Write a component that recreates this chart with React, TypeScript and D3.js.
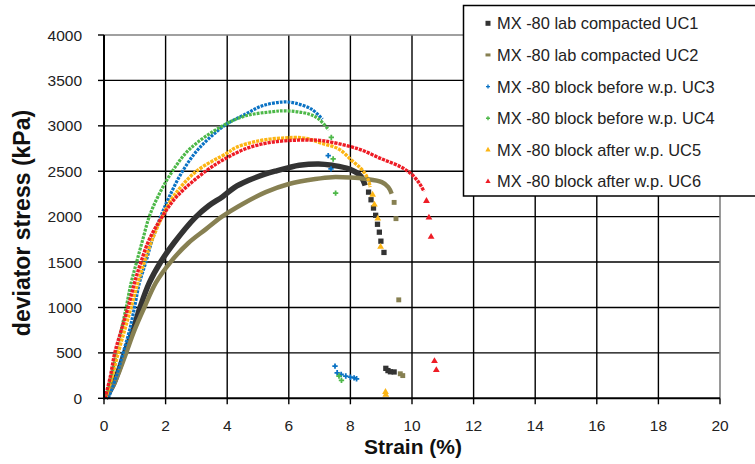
import React from 'react';
import * as d3 from 'd3';

type P = [number, number];

const xTicks = [0, 2, 4, 6, 8, 10, 12, 14, 16, 18, 20];
const yTicks = [0, 500, 1000, 1500, 2000, 2500, 3000, 3500, 4000];
const xTitle = 'Strain (%)';
const yTitle = 'deviator stress (kPa)';
const seriesNames = [
  'MX -80 lab compacted UC1',
  'MX -80 lab compacted UC2',
  'MX -80 block before w.p. UC3',
  'MX -80 block before w.p. UC4',
  'MX -80 block after w.p. UC5',
  'MX -80 block after w.p. UC6',
];

// UC1 – lab compacted
const uc1Curve: P[] = [
  [0.05, 0], [0.3, 150], [0.5, 330], [0.67, 500], [0.94, 750], [1.17, 1000], [1.47, 1270],
  [1.84, 1500], [2.27, 1710], [2.96, 1990], [3.4, 2120], [3.85, 2220], [4.23, 2320], [4.7, 2400],
  [5.2, 2465], [5.6, 2505], [6.0, 2540], [6.34, 2565], [6.97, 2580], [7.41, 2565], [7.95, 2526],
  [8.32, 2453], [8.48, 2343],
];
const uc1Scatter: P[] = [
  [8.59, 2270], [8.67, 2186], [8.75, 2095], [8.82, 2015], [8.88, 1916], [8.94, 1829], [8.99, 1730],
  [9.09, 1606], [9.15, 330], [9.22, 305], [9.3, 292], [9.42, 290],
];
// UC2 – lab compacted
const uc2Curve: P[] = [
  [0.05, 0], [0.3, 140], [0.5, 300], [0.72, 500], [0.99, 750], [1.31, 1000], [1.68, 1270],
  [2.16, 1500], [2.74, 1710], [3.3, 1860], [3.83, 2000], [4.5, 2140], [5.25, 2270], [6.0, 2360],
  [6.86, 2415], [7.41, 2435], [8.0, 2430], [8.48, 2416], [9.02, 2380], [9.23, 2325], [9.34, 2252],
];
const uc2Scatter: P[] = [[9.42, 2157], [9.48, 1978], [9.57, 1084], [9.62, 270], [9.7, 250]];
// UC3 – block before w.p.
const uc3Curve: P[] = [
  [0.14, 0], [0.4, 240], [0.62, 500], [0.83, 750], [0.99, 1000], [1.15, 1270], [1.36, 1500],
  [1.57, 1750], [1.84, 2000], [2.12, 2220], [2.55, 2500], [3.08, 2750], [3.9, 3000], [4.6, 3130],
  [5.14, 3220], [5.78, 3262], [6.2, 3250], [6.75, 3180], [7.09, 3073],
];
const uc3Scatter: P[] = [
  [7.28, 2672], [7.37, 2526], [7.5, 354], [7.57, 281], [7.7, 262], [7.85, 245], [8.0, 232],
  [8.12, 225], [8.2, 215],
];
// UC4 – block before w.p.
const uc4Curve: P[] = [
  [0.03, 0], [0.2, 180], [0.4, 500], [0.56, 750], [0.72, 1000], [0.88, 1270], [1.06, 1500],
  [1.26, 1750], [1.47, 2000], [1.75, 2220], [2.22, 2500], [2.8, 2750], [3.85, 3000], [4.6, 3110],
  [5.46, 3155], [5.9, 3165], [6.65, 3130], [6.97, 3075], [7.3, 2953],
];
const uc4Scatter: P[] = [[7.38, 2873], [7.44, 2635], [7.52, 2259], [7.63, 245], [7.71, 197]];
// UC5 – block after w.p.
const uc5Curve: P[] = [
  [0.05, 0], [0.25, 220], [0.46, 500], [0.67, 750], [0.88, 1000], [1.1, 1270], [1.31, 1500],
  [1.57, 1750], [1.89, 2000], [2.26, 2225], [3.0, 2500], [4.0, 2700], [4.28, 2760], [5.03, 2835],
  [5.78, 2865], [6.5, 2865], [7.05, 2810], [7.62, 2745], [8.05, 2617], [8.32, 2537], [8.48, 2471],
  [8.59, 2398], [8.64, 2325],
];
const uc5Scatter: P[] = [[8.72, 2241], [8.78, 2132], [8.89, 1978], [8.98, 1668], [9.14, 70], [9.15, 40]];
// UC6 – block after w.p.
const uc6Curve: P[] = [
  [0.03, 0], [0.2, 230], [0.35, 500], [0.56, 750], [0.78, 1000], [0.99, 1270], [1.2, 1500],
  [1.47, 1750], [1.89, 2000], [2.37, 2225], [3.3, 2500], [4.0, 2650], [4.7, 2760], [5.46, 2820],
  [6.32, 2843], [7.0, 2840], [7.41, 2818], [8.27, 2745], [9.02, 2635], [9.66, 2544], [10.03, 2453],
  [10.25, 2362], [10.39, 2278],
];
const uc6Scatter: P[] = [[10.47, 2172], [10.55, 1989], [10.62, 1778], [10.73, 409], [10.79, 310]];

const W = 755;
const H = 464;
const FONT = '"Liberation Sans", Arial, sans-serif';

const xS = d3.scaleLinear().domain([0, 20]).range([104, 720]);
const yS = d3.scaleLinear().domain([0, 4000]).range([398.3, 35]);

const series = [
  { name: seriesNames[0], curve: uc1Curve, scatter: uc1Scatter, color: '#333333', width: 5.5, dash: '', symbol: d3.symbolSquare, size: 28 },
  { name: seriesNames[1], curve: uc2Curve, scatter: uc2Scatter, color: '#878052', width: 4.5, dash: '', symbol: d3.symbolSquare, size: 24 },
  { name: seriesNames[2], curve: uc3Curve, scatter: uc3Scatter, color: '#0a72c4', width: 3.2, dash: '2.8 1.1', symbol: d3.symbolCross, size: 16 },
  { name: seriesNames[3], curve: uc4Curve, scatter: uc4Scatter, color: '#4db848', width: 3.2, dash: '2.8 1.1', symbol: d3.symbolCross, size: 16 },
  { name: seriesNames[4], curve: uc5Curve, scatter: uc5Scatter, color: '#fcb514', width: 3.4, dash: '3.2 1', symbol: d3.symbolTriangle, size: 20 },
  { name: seriesNames[5], curve: uc6Curve, scatter: uc6Scatter, color: '#ee1c25', width: 3.4, dash: '3.2 1', symbol: d3.symbolTriangle, size: 20 },
];

const line = d3
  .line<P>()
  .x((d) => xS(d[0]))
  .y((d) => yS(d[1]))
  .curve(d3.curveCatmullRom.alpha(0.5));

export default function App() {
  const x0 = xS(0);
  const x1 = xS(20);
  const y0 = yS(0);
  const y1 = yS(4000);
  return (
    <svg
      width={W}
      height={H}
      viewBox={`0 0 ${W} ${H}`}
      style={{ position: 'absolute', left: 0, top: 0, display: 'block', background: '#fff' }}
      fontFamily={FONT}
    >
      <rect x={0} y={0} width={W} height={H} fill="#fff" />
      {/* grid */}
      {yTicks.slice(1, -1).map((t) => (
        <line key={'gy' + t} x1={x0} x2={x1} y1={yS(t)} y2={yS(t)} stroke="#000" strokeWidth={1.4} />
      ))}
      {xTicks.slice(1, -1).map((t) => (
        <line key={'gx' + t} x1={xS(t)} x2={xS(t)} y1={y0} y2={y1} stroke="#000" strokeWidth={1.4} />
      ))}
      {/* frame top/right */}
      <line x1={x0} x2={x1} y1={y1} y2={y1} stroke="#808080" strokeWidth={1.6} />
      <line x1={x1} x2={x1} y1={y0} y2={y1} stroke="#808080" strokeWidth={1.6} />
      {/* ticks */}
      {yTicks.map((t) => (
        <line key={'ty' + t} x1={x0 - 6} x2={x0} y1={yS(t)} y2={yS(t)} stroke="#000" strokeWidth={1.4} />
      ))}
      {xTicks.map((t) => (
        <line key={'tx' + t} x1={xS(t)} x2={xS(t)} y1={y0} y2={y0 + 6} stroke="#000" strokeWidth={1.4} />
      ))}
      {/* series */}
      {series.map((s, i) => (
        <g key={'s' + i}>
          <path
            d={line(s.curve) || ''}
            fill="none"
            stroke={s.color}
            strokeWidth={s.width}
            strokeDasharray={s.dash || undefined}
          />
          {s.scatter.map((p, j) => (
            <path
              key={j}
              d={d3.symbol().type(s.symbol).size(s.size)() || ''}
              transform={`translate(${xS(p[0])},${yS(p[1])})`}
              fill={s.color}
            />
          ))}
        </g>
      ))}
      {/* axes */}
      <line x1={x0} x2={x0} y1={y0 + 1} y2={y1} stroke="#000" strokeWidth={2} />
      <line x1={x0 - 1} x2={x1} y1={y0} y2={y0} stroke="#000" strokeWidth={2} />
      {/* tick labels */}
      {yTicks.map((t) => (
        <text key={'ly' + t} x={82} y={yS(t)} dy="0.36em" textAnchor="end" fontSize={15.5} fill="#222">
          {t}
        </text>
      ))}
      {xTicks.map((t) => (
        <text key={'lx' + t} x={xS(t)} y={431} textAnchor="middle" fontSize={15.5} fill="#222">
          {t}
        </text>
      ))}
      {/* titles */}
      <text x={413} y={454} textAnchor="middle" fontSize={21} fontWeight="bold" fill="#111">
        {xTitle}
      </text>
      <text
        transform={`translate(30,223) rotate(-90)`}
        textAnchor="middle"
        fontSize={23}
        fontWeight="bold"
        fill="#111"
      >
        {yTitle}
      </text>
      {/* legend */}
      <rect x={463.5} y={5.5} width={300} height={190.5} fill="#fff" stroke="#000" strokeWidth={1.5} />
      {series.map((s, i) => {
        const ly = 23.3 + i * 31.65;
        return (
          <g key={'lg' + i}>
            {i < 2 ? (
              <rect x={485.5} y={i === 0 ? ly - 2.5 : ly - 1.5} width={5} height={i === 0 ? 5 : 3} fill={s.color} />
            ) : (
              <path
                d={d3.symbol().type(s.symbol).size(i < 4 ? 9 : 12)() || ''}
                transform={`translate(488,${ly})`}
                fill={s.color}
              />
            )}
            <text x={497} y={ly} dy="0.36em" fontSize={16.4} fill="#222">
              {s.name}
            </text>
          </g>
        );
      })}
    </svg>
  );
}
